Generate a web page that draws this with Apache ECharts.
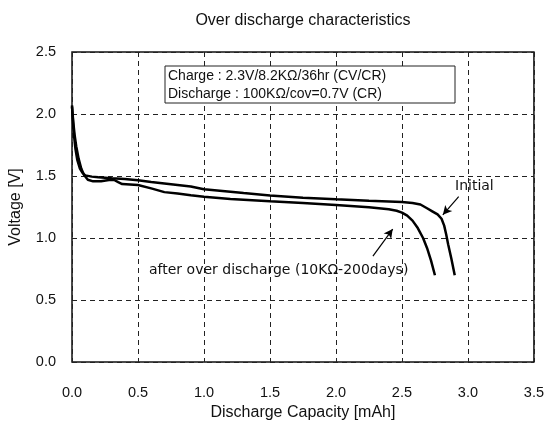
<!DOCTYPE html>
<html><head><meta charset="utf-8">
<script src="https://cdn.jsdelivr.net/npm/echarts@6/dist/echarts.min.js"></script>
<style>html,body{margin:0;padding:0;background:#fff}#c{width:547px;height:426px}</style>
</head><body><div id="c"></div>
<script>
var titleText = 'Over discharge characteristics';
var xName = 'Discharge Capacity [mAh]';
var yName = 'Voltage [V]';
var conditionLines = ['Charge : 2.3V/8.2KΩ/36hr (CV/CR)', 'Discharge : 100KΩ/cov=0.7V (CR)'];
var initialLabel = 'Initial';
var afterLabel = 'after over discharge (10KΩ-200days)';

var initialCurve = [[0,2.07],[0.008,1.93],[0.016,1.82],[0.026,1.72],[0.04,1.63],[0.06,1.56],[0.08,1.525],[0.1,1.505],[0.15,1.495],[0.2,1.49],[0.3,1.482],[0.4,1.475],[0.5,1.466],[0.6,1.452],[0.7,1.44],[0.8,1.428],[0.9,1.415],[1.0,1.393],[1.1,1.383],[1.3,1.362],[1.5,1.342],[1.75,1.325],[2.0,1.312],[2.25,1.3],[2.5,1.29],[2.58,1.283],[2.64,1.27],[2.69,1.24],[2.73,1.215],[2.77,1.19],[2.8,1.155],[2.82,1.1],[2.835,1.03],[2.85,0.95],[2.875,0.83],[2.9,0.70]];
var afterCurve = [[0,2.06],[0.01,1.93],[0.02,1.83],[0.032,1.74],[0.05,1.64],[0.07,1.56],[0.09,1.51],[0.12,1.47],[0.16,1.457],[0.22,1.458],[0.28,1.468],[0.32,1.468],[0.35,1.45],[0.38,1.435],[0.5,1.427],[0.6,1.40],[0.7,1.37],[0.8,1.358],[0.9,1.345],[1.0,1.333],[1.2,1.315],[1.5,1.297],[1.75,1.283],[2.0,1.267],[2.25,1.248],[2.4,1.232],[2.46,1.22],[2.5,1.205],[2.54,1.18],[2.58,1.14],[2.62,1.08],[2.66,1.0],[2.69,0.92],[2.72,0.82],[2.75,0.70]];
var initialArrow = [[2.93,1.334],[2.81,1.187]];
var afterArrow = [[2.28,0.853],[2.43,1.072]];

var FONT = '"Liberation Sans", Arial, sans-serif';
var WIDE = '"DejaVu Sans", sans-serif';
var chart = echarts.init(document.getElementById('c'));
var dashed = {show:true, lineStyle:{color:'#222', width:1, type:[5,4]}};
chart.setOption({
  animation:false,
  backgroundColor:'#fff',
  title:{text:titleText, left:298, top:8, textAlign:'center',
    textStyle:{fontFamily:FONT, fontSize:16, fontWeight:'normal', color:'#111'}},
  grid:{left:72, right:13, top:52, bottom:64, show:true, borderColor:'#111', borderWidth:1.5, backgroundColor:'transparent'},
  xAxis:{type:'value', min:0, max:3.5, interval:0.5,
    name:xName, nameLocation:'middle', nameGap:42,
    nameTextStyle:{fontFamily:FONT, fontSize:16, color:'#111'},
    axisLine:{show:false}, axisTick:{show:false},
    axisLabel:{margin:23, fontFamily:FONT, fontSize:14.5, color:'#111', formatter:function(v){return v.toFixed(1);}},
    splitLine:dashed},
  yAxis:{type:'value', min:0, max:2.5, interval:0.5,
    name:yName, nameLocation:'middle', nameGap:48,
    nameTextStyle:{fontFamily:FONT, fontSize:16, color:'#111'},
    axisLine:{show:false}, axisTick:{show:false},
    axisLabel:{margin:16, fontFamily:FONT, fontSize:14.5, color:'#111', formatter:function(v){return v.toFixed(1);}},
    splitLine:dashed},
  series:[
    {type:'line', name:'Initial', data:initialCurve, showSymbol:false, smooth:false,
      lineStyle:{color:'#000', width:2.5},
      markLine:{silent:true, symbol:['none','arrow'], symbolSize:[7,9],
        lineStyle:{color:'#000', width:1.2, type:'solid'}, label:{show:false},
        data:[[{coord:initialArrow[0]},{coord:initialArrow[1]}]]}},
    {type:'line', name:'After', data:afterCurve, showSymbol:false, smooth:false,
      lineStyle:{color:'#000', width:2.5},
      markLine:{silent:true, symbol:['none','arrow'], symbolSize:[7,9],
        lineStyle:{color:'#000', width:1.2, type:'solid'}, label:{show:false},
        data:[[{coord:afterArrow[0]},{coord:afterArrow[1]}]]}}
  ],
  graphic:[
    {type:'rect', shape:{x:165, y:66, width:290, height:37}, style:{fill:'#fff', stroke:'#222', lineWidth:1}, z:10},
    {type:'text', x:168, y:76.5, z:11, style:{text:conditionLines[0], font:'14px '+FONT, fill:'#111', verticalAlign:'middle'}},
    {type:'text', x:168, y:94, z:11, style:{text:conditionLines[1], font:'14px '+FONT, fill:'#111', verticalAlign:'middle'}},
    {type:'text', x:455, y:186, z:11, style:{text:initialLabel, font:'14px '+WIDE, fill:'#111', verticalAlign:'middle'}},
    {type:'text', x:149, y:270, z:11, style:{text:afterLabel, font:'14px '+WIDE, fill:'#111', verticalAlign:'middle'}}
  ]
});
</script></body></html>
